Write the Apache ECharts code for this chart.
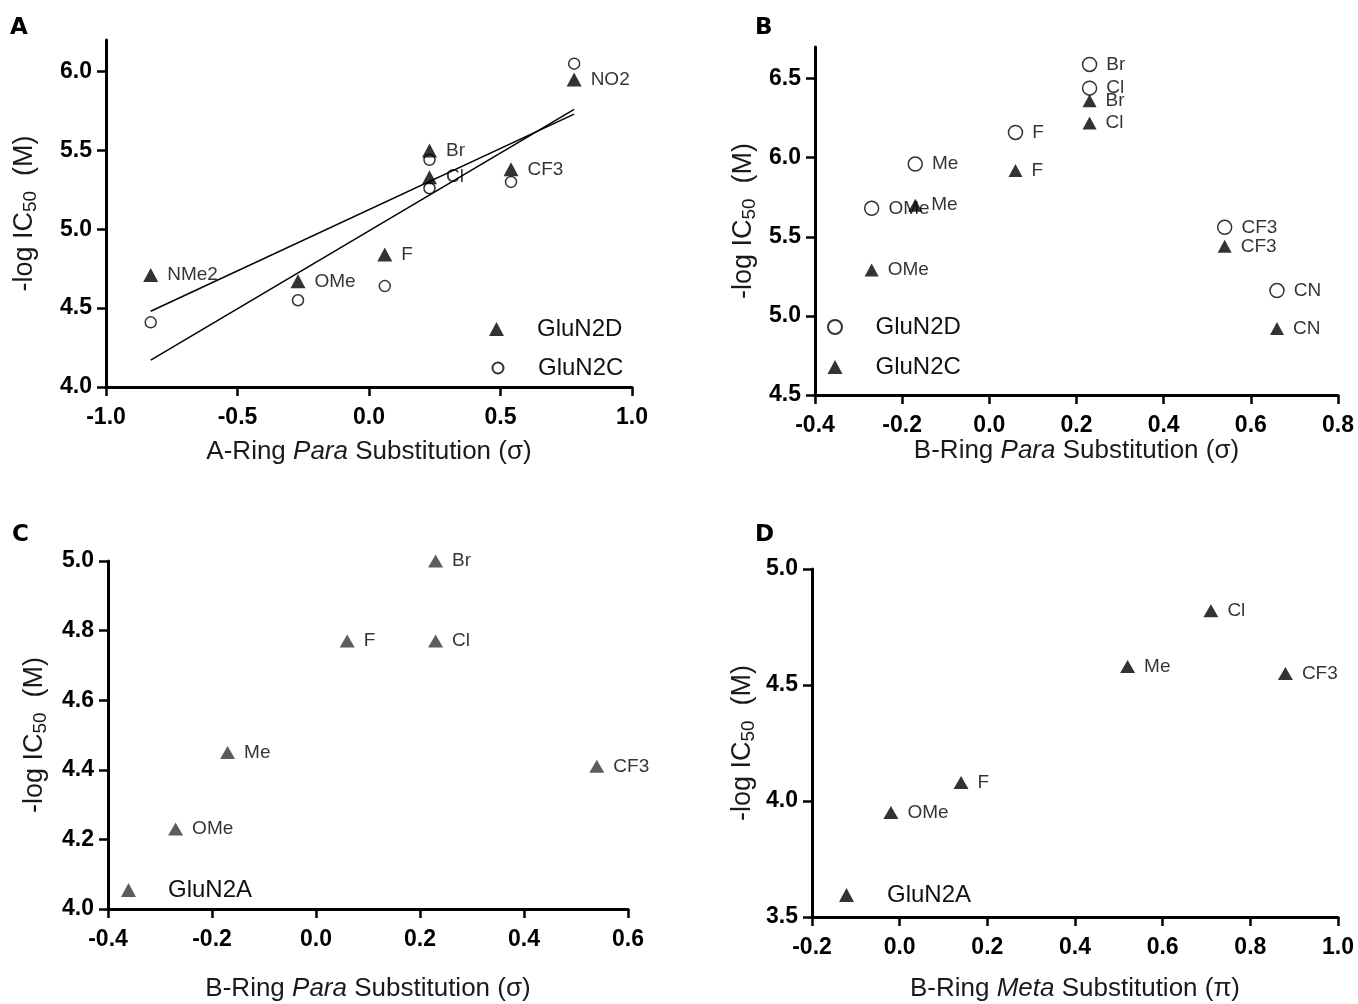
<!DOCTYPE html>
<html>
<head>
<meta charset="utf-8">
<script src="https://cdn.jsdelivr.net/npm/echarts@6/dist/echarts.min.js"></script>
<style>html,body{margin:0;padding:0;background:#fff}#c{width:1358px;height:1004px}</style>
</head>
<body>
<div id="c"></div>
<script>
// ---------- Panel A ----------
const aSubst   = ['NMe2','OMe','F','Cl','Br','CF3','NO2'];
const aSigma   = [-0.83,-0.27,0.06,0.23,0.23,0.54,0.78];
const aGluN2D  = [4.71,4.67,4.84,5.33,5.50,5.38,5.95];
const aGluN2C  = [4.41,4.55,4.64,5.26,5.44,5.30,6.05];
const aFitX    = [-0.83,0.78];
const aFitN2D  = [4.48,5.73];
const aFitN2C  = [4.17,5.76];
const aXTicks  = [-1.0,-0.5,0.0,0.5,1.0];
const aYTicks  = [4.0,4.5,5.0,5.5,6.0];
// ---------- Panel B ----------
const bSubst   = ['OMe','Me','F','Cl','Br','CF3','CN'];
const bSigma   = [-0.27,-0.17,0.06,0.23,0.23,0.54,0.66];
const bGluN2D  = [5.68,5.96,6.16,6.44,6.59,5.56,5.16];
const bGluN2C  = [5.29,5.70,5.92,6.22,6.36,5.44,4.92];
const bXTicks  = [-0.4,-0.2,0.0,0.2,0.4,0.6,0.8];
const bYTicks  = [4.5,5.0,5.5,6.0,6.5];
// ---------- Panel C ----------
const cSubst   = ['OMe','Me','F','Cl','Br','CF3'];
const cSigma   = [-0.27,-0.17,0.06,0.23,0.23,0.54];
const cGluN2A  = [4.23,4.45,4.77,4.77,5.00,4.41];
const cXTicks  = [-0.4,-0.2,0.0,0.2,0.4,0.6];
const cYTicks  = [4.0,4.2,4.4,4.6,4.8,5.0];
// ---------- Panel D ----------
const dSubst   = ['OMe','F','Me','Cl','CF3'];
const dPi      = [-0.02,0.14,0.52,0.71,0.88];
const dGluN2A  = [3.95,4.08,4.58,4.82,4.55];
const dXTicks  = [-0.2,0.0,0.2,0.4,0.6,0.8,1.0];
const dYTicks  = [3.5,4.0,4.5,5.0];

const FONT = "'Liberation Sans', Arial, Helvetica, sans-serif";
const fmt = v => v.toFixed(1);

function xAxisOf(grid, min, max, interval, ticks, nameRich, gap) {
  return {
    type:'value', gridIndex:grid, min:min, max:max, interval:interval,
    axisLine:{show:true, onZero:false, lineStyle:{color:'#000', width:3}},
    axisTick:{show:true, length:9, customValues:ticks, lineStyle:{color:'#000', width:2.5}},
    splitLine:{show:false},
    axisLabel:{customValues:ticks, formatter:fmt, margin:19, color:'#000', fontWeight:'bold', fontSize:23, fontFamily:FONT},
    name:nameRich, nameLocation:'middle', nameGap:gap,
    nameTextStyle:{fontSize:26, color:'#1a1a1a', fontFamily:FONT,
      rich:{i:{fontStyle:'italic', fontSize:26, color:'#1a1a1a', fontFamily:FONT}}}
  };
}
function yAxisOf(grid, min, max, interval, ticks, gap) {
  return {
    type:'value', gridIndex:grid, min:min, max:max, interval:interval,
    axisLine:{show:true, onZero:false, lineStyle:{color:'#000', width:3}},
    axisTick:{show:true, length:9, customValues:ticks, lineStyle:{color:'#000', width:2.5}},
    splitLine:{show:false},
    axisLabel:{customValues:ticks, formatter:fmt, margin:14, color:'#000', fontWeight:'bold', fontSize:23, fontFamily:FONT},
    name:'-log IC{sub|50}  (M)', nameLocation:'middle', nameGap:gap,
    nameTextStyle:{fontSize:27, lineHeight:30, color:'#1a1a1a', fontFamily:FONT,
      rich:{sub:{fontSize:19, lineHeight:19, verticalAlign:'bottom', color:'#1a1a1a', fontFamily:FONT}}}
  };
}
function lbl(fs) {
  return {show:true, position:'right', distance:9, formatter:p=>p.data[2], fontSize:fs, color:'#000', fontFamily:FONT};
}
function pts(xs, ys, names) { return xs.map((x,i)=>[x, ys[i], names ? names[i] : '']); }
const hollow = {color:'#fff', borderColor:'#000', borderWidth:1.5};
const solid  = {color:'#000'};

function legendOf(left, top, gap, pad, names, w, h) {
  return {
    left:left, top:top, orient:'vertical', padding:0, itemWidth:w, itemHeight:h, itemGap:gap,
    selectedMode:false, data:names, formatter:n=>n.split('|')[1],
    textStyle:{fontSize:24, lineHeight:24, color:'#111', fontFamily:FONT, padding:[0,0,0,pad]}
  };
}
const LETTER = {fontSize:23, fontWeight:900, fontFamily:"'DejaVu Sans', sans-serif", color:'#000'};

const chart = echarts.init(document.getElementById('c'), null, {renderer:'canvas'});
chart.setOption({
  backgroundColor:'#fff',
  animation:false,
  title:[
    {text:'A', left:10, top:17, padding:0, textStyle:LETTER},
    {text:'B', left:755, top:17, padding:0, textStyle:LETTER},
    {text:'C', left:12, top:524, padding:0, textStyle:LETTER},
    {text:'D', left:755, top:524, padding:0, textStyle:LETTER}
  ],
  grid:[
    {left:106, right:726, top:40, bottom:617},
    {left:815, right:20, top:47, bottom:609},
    {left:108, right:730, top:561, bottom:95},
    {left:812, right:20, top:569, bottom:87}
  ],
  xAxis:[
    xAxisOf(0, -1.0, 1.0, 0.5, aXTicks, 'A-Ring {i|Para} Substitution (σ)', 52),
    xAxisOf(1, -0.4, 0.8, 0.2, bXTicks, 'B-Ring {i|Para} Substitution (σ)', 42),
    xAxisOf(2, -0.4, 0.6, 0.2, cXTicks, 'B-Ring {i|Para} Substitution (σ)', 67),
    xAxisOf(3, -0.2, 1.0, 0.2, dXTicks, 'B-Ring {i|Meta} Substitution (π)', 59)
  ],
  yAxis:[
    yAxisOf(0, 4.0, 6.2, 0.5, aYTicks, 66),
    yAxisOf(1, 4.5, 6.7, 0.5, bYTicks, 56),
    yAxisOf(2, 4.0, 5.0, 0.2, cYTicks, 58),
    yAxisOf(3, 3.5, 5.0, 0.5, dYTicks, 54)
  ],
  legend:[
    legendOf(489, 317, 15, 28, ['A|GluN2D'], 15, 14),
    legendOf(491.5, 356, 15, 29.5, ['A|GluN2C'], 11, 11),
    legendOf(827, 315, 16, 28, ['B|GluN2D','B|GluN2C'], 15, 14),
    legendOf(121, 878, 15, 27, ['C|GluN2A'], 15, 14),
    legendOf(839, 883, 15, 28, ['D|GluN2A'], 15, 14)
  ],
  series:[
    {type:'line', name:'A fit GluN2D', xAxisIndex:0, yAxisIndex:0, data:pts(aFitX, aFitN2D), showSymbol:false, symbol:'none',
      lineStyle:{color:'#000', width:1.5}, z:1, silent:true},
    {type:'line', name:'A fit GluN2C', xAxisIndex:0, yAxisIndex:0, data:pts(aFitX, aFitN2C), showSymbol:false, symbol:'none',
      lineStyle:{color:'#000', width:1.5}, z:1, silent:true},
    {type:'scatter', name:'A|GluN2C', xAxisIndex:0, yAxisIndex:0, data:pts(aSigma, aGluN2C),
      symbol:'circle', symbolSize:11, itemStyle:hollow, z:3},
    {type:'scatter', name:'A|GluN2D', xAxisIndex:0, yAxisIndex:0, data:pts(aSigma, aGluN2D, aSubst),
      symbol:'triangle', symbolSize:[15,14], itemStyle:solid, label:lbl(19), z:4},

    {type:'scatter', name:'B|GluN2D', xAxisIndex:1, yAxisIndex:1, data:pts(bSigma, bGluN2D, bSubst),
      symbol:'circle', symbolSize:14, itemStyle:hollow, label:lbl(19), z:3},
    {type:'scatter', name:'B|GluN2C', xAxisIndex:1, yAxisIndex:1, data:pts(bSigma, bGluN2C, bSubst),
      symbol:'triangle', symbolSize:[14,13], itemStyle:solid, label:lbl(19), z:4},

    {type:'scatter', name:'C|GluN2A', xAxisIndex:2, yAxisIndex:2, data:pts(cSigma, cGluN2A, cSubst),
      symbol:'triangle', symbolSize:[15,13], itemStyle:{color:'#333'}, label:lbl(19), z:4},

    {type:'scatter', name:'D|GluN2A', xAxisIndex:3, yAxisIndex:3, data:pts(dPi, dGluN2A, dSubst),
      symbol:'triangle', symbolSize:[15,13], itemStyle:solid, label:lbl(19), z:4}
  ]
});
</script>
</body>
</html>
